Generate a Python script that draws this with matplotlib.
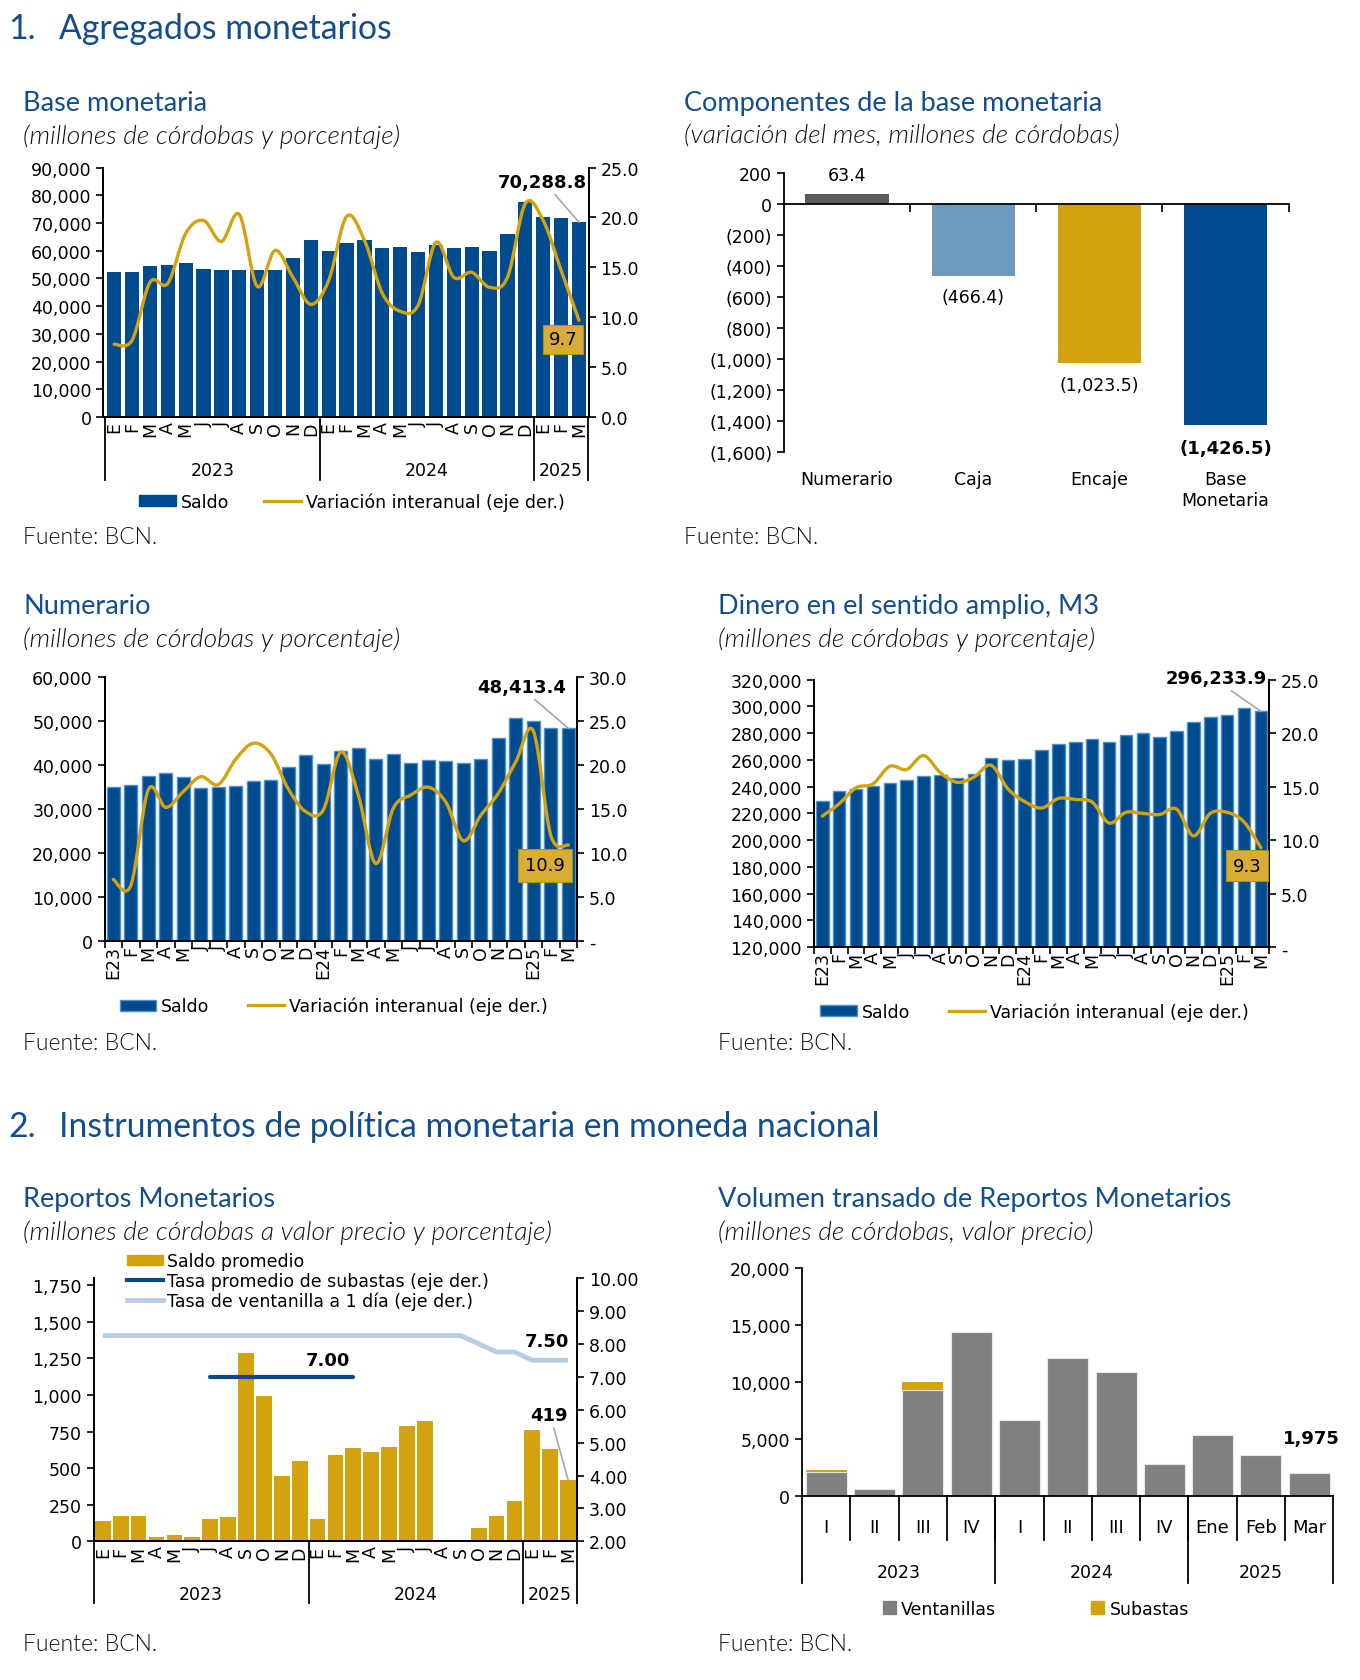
import numpy as np
import matplotlib
matplotlib.use("Agg")
import matplotlib.pyplot as plt
from matplotlib.path import Path
from matplotlib.patches import PathPatch, Patch
from matplotlib.lines import Line2D
from matplotlib.ticker import FuncFormatter

# ---------------- DATA ----------------
months_letters = ["E", "F", "M", "A", "M", "J", "J", "A", "S", "O", "N", "D",
                  "E", "F", "M", "A", "M", "J", "J", "A", "S", "O", "N", "D",
                  "E", "F", "M"]
months_coded = ["E23", "F", "M", "A", "M", "J", "J", "A", "S", "O", "N", "D",
                "E24", "F", "M", "A", "M", "J", "J", "A", "S", "O", "N", "D",
                "E25", "F", "M"]
year_groups = [(-0.5, 11.5, "2023"), (11.5, 23.5, "2024"), (23.5, 26.5, "2025")]

base_saldo = [52200, 52200, 54400, 54900, 55400, 53400, 52900, 53200, 53200, 53200, 57500, 63900,
              59900, 62800, 63900, 60900, 61300, 59600, 62200, 60900, 61300, 59900, 65900, 77600,
              72100, 71800, 70288.8]
base_var = [7.3, 7.7, 13.5, 13.4, 18.4, 19.7, 17.6, 20.3, 13.1, 16.7, 14.0, 11.3,
            13.7, 20.1, 17.7, 12.4, 10.6, 11.2, 17.5, 14.0, 14.5, 13.0, 14.0, 21.4,
            19.7, 14.7, 9.7]

comp_labels = ["Numerario", "Caja", "Encaje", "Base\nMonetaria"]
comp_values = [63.4, -466.4, -1023.5, -1426.5]

num_saldo = [35100, 35480, 37600, 38200, 37220, 34870, 35100, 35330, 36310, 36540, 39560, 42280,
             40320, 43270, 43870, 41530, 42510, 40550, 41150, 40920, 40550, 41530, 46220, 50680,
             50080, 48490, 48413.4]
num_var = [7.0, 6.3, 17.2, 15.2, 17.0, 18.7, 17.8, 20.7, 22.5, 21.3, 17.3, 14.7,
           14.9, 21.5, 16.6, 8.8, 15.1, 16.6, 17.5, 15.8, 11.4, 14.3, 16.8, 20.4,
           23.9, 12.0, 10.9]

m3_saldo = [229400, 236600, 238600, 240800, 242800, 244800, 248000, 248500, 246500, 249700, 261100, 260100,
            260600, 267000, 271500, 273700, 275900, 273000, 278900, 279900, 277400, 281900, 288100, 292300,
            293300, 298500, 296233.9]
m3_var = [12.25, 13.4, 14.9, 15.25, 16.9, 16.6, 17.9, 16.3, 15.4, 15.9, 17.0, 14.8,
          13.6, 13.0, 13.9, 13.8, 13.55, 11.6, 12.6, 12.5, 12.4, 12.9, 10.4, 12.5,
          12.6, 11.7, 9.3]

rep_saldo = [141, 173, 173, 27, 45, 27, 150, 166, 1286, 991, 448, 550,
             150, 593, 641, 614, 648, 786, 823, 0, 0, 93, 175, 273,
             760, 630, 419]
rep_subastas = [np.nan] * 6 + [7.0] * 9 + [np.nan] * 12
rep_ventanilla = [8.25] * 21 + [8.0, 7.75, 7.75, 7.5, 7.5, 7.5]

vol_labels = ["I", "II", "III", "IV", "I", "II", "III", "IV", "Ene", "Feb", "Mar"]
vol_groups = [(-0.5, 3.5, "2023"), (3.5, 7.5, "2024"), (7.5, 10.5, "2025")]
vol_ventanillas = [2040, 580, 9290, 14380, 6670, 12080, 10890, 2740, 5360, 3610, 1975]
vol_subastas = [170, 0, 730, 0, 0, 0, 0, 0, 0, 0, 0]

# ---------------- STYLE ----------------
W, H = 1360, 1681
S = 1360 / 1275.0
BLUE = "#004B8D"
BLUE_EDGE = "#4A92D4"
GOLD = "#D4A20F"
BOXGOLD = "#D8AD35"
TITLE = "#124E8E"
GRAYBAR = "#808080"
TXT = "#111111"
TICK = 12.5

plt.rcParams["font.family"] = ["DejaVu Sans"]
plt.rcParams["axes.linewidth"] = 1.3
plt.rcParams["xtick.major.width"] = 1.2
plt.rcParams["ytick.major.width"] = 1.2
plt.rcParams["xtick.minor.width"] = 1.2

fig = plt.figure(figsize=(W / 100, H / 100), dpi=100)


def add_ax(l, t, r, b):
    return fig.add_axes([l * S / W, 1 - b * S / H, (r - l) * S / W, (b - t) * S / H])


def ftext(x, y, s, **kw):
    fig.text(x * S / W, 1 - y * S / H, s, **kw)


def pts(v):
    return v * S * 0.72


def smooth_line(ax, xs, ys, **kw):
    p = np.column_stack([np.asarray(xs, float), np.asarray(ys, float)])
    n = len(p)
    verts = [p[0]]
    codes = [Path.MOVETO]
    for i in range(n - 1):
        p0 = p[i - 1] if i > 0 else p[i]
        p1, p2 = p[i], p[i + 1]
        p3 = p[i + 2] if i + 2 < n else p[i + 1]
        verts += [p1 + (p2 - p0) / 6.0, p2 - (p3 - p1) / 6.0, p2]
        codes += [Path.CURVE4] * 3
    ax.add_patch(PathPatch(Path(verts, codes), fill=False, capstyle="round", joinstyle="round", **kw))


def callout(ax, x, y, txt, dx, dy, leader=True, relpos=(0.6, 0.0)):
    ap = dict(arrowstyle="-", color="#A6A6A6", lw=1.2, shrinkA=1, shrinkB=0, relpos=relpos) if leader else None
    ax.annotate(txt, xy=(x, y), xytext=(pts(dx), -pts(dy)), textcoords="offset points",
                ha="center", va="center", fontsize=13, fontweight="bold", arrowprops=ap, zorder=6)


def boxlabel(ax, x, y, txt, dx, dy, pad=0.3):
    ax.annotate(txt, xy=(x, y), xytext=(pts(dx), -pts(dy)), textcoords="offset points",
                ha="center", va="center", fontsize=13, zorder=6,
                bbox=dict(boxstyle="square,pad=%s" % pad, fc=BOXGOLD, ec="#B38E12", lw=0.8))


def title_block(x, y, title, sub):
    ftext(x, y, title, family="Lato", fontsize=19.5, color=TITLE, va="center", ha="left")
    ftext(x, y + 31, sub, family="Lato", style="italic", weight=300, fontsize=19, color=TXT,
          va="center", ha="left")


def fuente(x, y):
    ftext(x, y, "Fuente: BCN.", family="Lato", weight=300, fontsize=16.5, color=TXT,
          va="center", ha="left")


def thou(v, p):
    return f"{v:,.0f}"


def style_twin(ax, ax2):
    for a in (ax, ax2):
        a.spines["top"].set_visible(False)
    ax.tick_params(axis="y", direction="out", length=5, labelsize=TICK)
    ax2.tick_params(axis="y", direction="out", length=5, labelsize=TICK)


def year_axis(ax, groups, depth, ylab):
    trans = ax.get_xaxis_transform()
    bounds = sorted(set([g[0] for g in groups] + [g[1] for g in groups]))
    for b in bounds:
        ax.plot([b, b], [0, -depth], transform=trans, clip_on=False, color="black", lw=1.3)
    for a, b, lab in groups:
        ax.text((a + b) / 2, -ylab, lab, transform=trans, ha="center", va="center", fontsize=TICK)


# ---------------- SECTION TITLES ----------------
ftext(8, 27, "1.", family="Lato", fontsize=24.3, color=TITLE, va="center")
ftext(55, 27, "Agregados monetarios", family="Lato", fontsize=24.3, color=TITLE, va="center")
ftext(8, 1057, "2.", family="Lato", fontsize=24.3, color=TITLE, va="center")
ftext(55, 1057, "Instrumentos de política monetaria en moneda nacional", family="Lato",
      fontsize=24.3, color=TITLE, va="center")

# ---------------- P1 Base monetaria ----------------
title_block(22, 97, "Base monetaria", "(millones de córdobas y porcentaje)")
x27 = np.arange(27)
ax = add_ax(97, 158, 552, 392)
ax.bar(x27, base_saldo, width=0.8, color=BLUE, zorder=2)
ax.set_xlim(-0.6, 26.55)
ax.set_ylim(0, 90000)
ax.set_yticks(np.arange(0, 90001, 10000))
ax.yaxis.set_major_formatter(FuncFormatter(thou))
ax.set_xticks(x27)
ax.set_xticklabels(months_letters, rotation=90, fontsize=TICK)
ax.tick_params(axis="x", length=0, pad=3)
ax2 = ax.twinx()
ax2.set_ylim(0, 25)
ax2.set_yticks(np.arange(0, 25.01, 5))
ax2.yaxis.set_major_formatter(FuncFormatter(lambda v, p: f"{v:.1f}"))
smooth_line(ax2, x27, base_var, color=GOLD, lw=2.4, zorder=3)
style_twin(ax, ax2)
year_axis(ax, year_groups, 0.25, 0.21)
callout(ax, 26, base_saldo[-1], "70,288.8", -34, -38)
boxlabel(ax2, 26, base_var[-1], "9.7", -15, 18)
fig.legend([Patch(color=BLUE), Line2D([], [], color=GOLD, lw=2.4)],
           ["Saldo", "Variación interanual (eje der.)"], loc="center",
           bbox_to_anchor=(330 * S / W, 1 - 471 * S / H), ncol=2, frameon=False, fontsize=TICK,
           handlelength=2.1, handleheight=0.6, handletextpad=0.3, columnspacing=2.0)
fuente(22, 504)

# ---------------- P2 Componentes ----------------
title_block(641, 97, "Componentes de la base monetaria", "(variación del mes, millones de córdobas)")
ax = add_ax(735, 163, 1208, 425)
comp_colors = ["#5A5A5A", "#6F9ABF", GOLD, BLUE]
x4 = np.arange(4)
ax.bar(x4, comp_values, width=0.66, color=comp_colors, zorder=2)
ax.set_xlim(-0.5, 3.5)
ax.set_ylim(-1600, 200)
ax.set_yticks(np.arange(-1600, 201, 200))
ax.yaxis.set_major_formatter(FuncFormatter(lambda v, p: f"({abs(v):,.0f})" if v < 0 else f"{v:,.0f}"))
ax.spines["top"].set_visible(False)
ax.spines["right"].set_visible(False)
ax.spines["bottom"].set_position(("data", 0))
ax.set_xticks([0.5, 1.5, 2.5, 3.5])
ax.set_xticklabels([])
ax.tick_params(axis="x", direction="out", length=6)
ax.tick_params(axis="y", direction="out", length=5, labelsize=TICK)
trans = ax.get_xaxis_transform()
for i, lab in enumerate(comp_labels):
    ax.text(i, -0.063, lab, transform=trans, ha="center", va="top", fontsize=TICK, linespacing=1.2)
comp_txt = ["63.4", "(466.4)", "(1,023.5)", "(1,426.5)"]
comp_dy = [-18, 19.5, 20.5, 21]
for i, (v, t, d) in enumerate(zip(comp_values, comp_txt, comp_dy)):
    ax.annotate(t, xy=(i, v), xytext=(0, -pts(d)), textcoords="offset points", ha="center",
                va="center", fontsize=TICK if i < 3 else 13,
                fontweight="bold" if i == 3 else "normal")
fuente(641, 504)

# ---------------- P3 Numerario ----------------
title_block(22, 569, "Numerario", "(millones de córdobas y porcentaje)")
ax = add_ax(98, 636, 541, 883)
ax.bar(x27, num_saldo, width=0.74, color=BLUE, edgecolor=BLUE_EDGE, linewidth=1.0, zorder=2)
ax.set_xlim(-0.5, 26.5)
ax.set_ylim(0, 60000)
ax.set_yticks(np.arange(0, 60001, 10000))
ax.yaxis.set_major_formatter(FuncFormatter(thou))
ax.set_xticks(x27)
ax.set_xticklabels(months_coded, rotation=90, fontsize=TICK)
ax.set_xticks(np.arange(-0.5, 26.6, 1), minor=True)
ax.tick_params(axis="x", which="major", length=0, pad=3)
ax.tick_params(axis="x", which="minor", direction="out", length=5)
ax2 = ax.twinx()
ax2.set_ylim(0, 30)
ax2.set_yticks(np.arange(0, 30.01, 5))
ax2.yaxis.set_major_formatter(FuncFormatter(lambda v, p: "-" if v == 0 else f"{v:.1f}"))
smooth_line(ax2, x27, num_var, color=GOLD, lw=2.4, zorder=3)
style_twin(ax, ax2)
callout(ax, 26, num_saldo[-1], "48,413.4", -44, -39)
boxlabel(ax2, 26, num_var[-1], "10.9", -22, 19, pad=0.4)
fig.legend([Patch(fc=BLUE, ec=BLUE_EDGE), Line2D([], [], color=GOLD, lw=2.4)],
           ["Saldo", "Variación interanual (eje der.)"], loc="center",
           bbox_to_anchor=(313 * S / W, 1 - 944 * S / H), ncol=2, frameon=False, fontsize=TICK,
           handlelength=2.1, handleheight=0.6, handletextpad=0.3, columnspacing=2.2)
fuente(22, 978)

# ---------------- P4 M3 ----------------
title_block(673, 569, "Dinero en el sentido amplio, M3", "(millones de córdobas y porcentaje)")
ax = add_ax(763, 638, 1190, 889)
ax.bar(x27, m3_saldo, width=0.74, color=BLUE, edgecolor=BLUE_EDGE, linewidth=1.0, zorder=2)
ax.set_xlim(-0.5, 26.5)
ax.set_ylim(120000, 320000)
ax.set_yticks(np.arange(120000, 320001, 20000))
ax.yaxis.set_major_formatter(FuncFormatter(thou))
ax.set_xticks(x27)
ax.set_xticklabels(months_coded, rotation=90, fontsize=TICK)
ax.set_xticks(np.arange(-0.5, 26.6, 1), minor=True)
ax.tick_params(axis="x", which="major", length=0, pad=3)
ax.tick_params(axis="x", which="minor", direction="out", length=5)
ax2 = ax.twinx()
ax2.set_ylim(0, 25)
ax2.set_yticks(np.arange(0, 25.01, 5))
ax2.yaxis.set_major_formatter(FuncFormatter(lambda v, p: "-" if v == 0 else f"{v:.1f}"))
smooth_line(ax2, x27, m3_var, color=GOLD, lw=2.4, zorder=3)
style_twin(ax, ax2)
callout(ax, 26, m3_saldo[-1], "296,233.9", -42, -31)
boxlabel(ax2, 26, m3_var[-1], "9.3", -13, 17, pad=0.35)
fig.legend([Patch(fc=BLUE, ec=BLUE_EDGE), Line2D([], [], color=GOLD, lw=2.4)],
           ["Saldo", "Variación interanual (eje der.)"], loc="center",
           bbox_to_anchor=(970 * S / W, 1 - 949 * S / H), ncol=2, frameon=False, fontsize=TICK,
           handlelength=2.1, handleheight=0.6, handletextpad=0.3, columnspacing=2.2)
fuente(673, 978)

# ---------------- P5 Reportos ----------------
title_block(22, 1125, "Reportos Monetarios", "(millones de córdobas a valor precio y porcentaje)")
ax = add_ax(88, 1199, 541, 1446)
ax.bar(x27, rep_saldo, width=0.88, color=GOLD, zorder=2)
ax.set_xlim(-0.5, 26.5)
ax.set_ylim(0, 1800)
ax.set_yticks(np.arange(0, 1751, 250))
ax.yaxis.set_major_formatter(FuncFormatter(thou))
ax.set_xticks(x27)
ax.set_xticklabels(months_letters, rotation=90, fontsize=TICK)
ax.tick_params(axis="x", length=0, pad=3)
ax2 = ax.twinx()
ax2.set_ylim(2, 10)
ax2.set_yticks(np.arange(2, 10.01, 1))
ax2.yaxis.set_major_formatter(FuncFormatter(lambda v, p: f"{v:.2f}"))
ax2.plot(x27, rep_ventanilla, color="#B9CDE2", lw=3.5, zorder=3, solid_capstyle="butt")
ax2.plot(x27, rep_subastas, color="#0B4A8A", lw=3.0, zorder=4, solid_capstyle="round")
style_twin(ax, ax2)
year_axis(ax, year_groups, 0.235, 0.20)
callout(ax2, 26, rep_ventanilla[-1], "7.50", -20, -18, leader=False)
callout(ax2, 14, rep_subastas[14], "7.00", -24, -16, leader=False)
callout(ax, 26, rep_saldo[-1], "419", -18, -61, relpos=(0.6, 0.0))
ax.legend([Patch(color=GOLD), Line2D([], [], color="#0B4A8A", lw=3.0),
           Line2D([], [], color="#B9CDE2", lw=3.5)],
          ["Saldo promedio", "Tasa promedio de subastas (eje der.)", "Tasa de ventanilla a 1 día (eje der.)"],
          loc="upper left", bbox_to_anchor=(119 * S / W, 1 - 1175 * S / H),
          bbox_transform=fig.transFigure, frameon=False, fontsize=TICK, handlelength=2.1,
          handleheight=0.55, handletextpad=0.2, labelspacing=0.08, borderpad=0, borderaxespad=0)
fuente(22, 1542)

# ---------------- P6 Volumen ----------------
title_block(673, 1125, "Volumen transado de Reportos Monetarios", "(millones de córdobas, valor precio)")
ax = add_ax(752, 1190, 1250, 1403)
x11 = np.arange(11)
ax.bar(x11, vol_ventanillas, width=0.85, color=GRAYBAR, edgecolor="#E6E6E6", linewidth=0.8, zorder=2)
ax.bar(x11, vol_subastas, bottom=vol_ventanillas, width=0.85, color=GOLD, zorder=2)
ax.set_xlim(-0.5, 10.5)
ax.set_ylim(0, 20000)
ax.set_yticks(np.arange(0, 20001, 5000))
ax.yaxis.set_major_formatter(FuncFormatter(thou))
ax.spines["top"].set_visible(False)
ax.spines["right"].set_visible(False)
ax.set_xticks([])
ax.tick_params(axis="y", direction="out", length=5, labelsize=TICK)
trans = ax.get_xaxis_transform()
for b in np.arange(0.5, 10.0, 1):
    ax.plot([b, b], [0, -0.195], transform=trans, clip_on=False, color="black", lw=1.3)
for i, lab in enumerate(vol_labels):
    ax.text(i, -0.14, lab, transform=trans, ha="center", va="center", fontsize=13)
year_axis(ax, vol_groups, 0.385, 0.335)
callout(ax, 10, vol_ventanillas[-1] + vol_subastas[-1], "1,975", 2, -33, leader=False)
fig.legend([Patch(color=GRAYBAR), Patch(color=GOLD)], ["Ventanillas", "Subastas"], loc="center",
           bbox_to_anchor=(971 * S / W, 1 - 1509 * S / H), ncol=2, frameon=False, fontsize=TICK,
           handlelength=0.75, handleheight=0.75, handletextpad=0.3, columnspacing=5.5)
fuente(673, 1542)

fig.savefig("out.png", dpi=100)
